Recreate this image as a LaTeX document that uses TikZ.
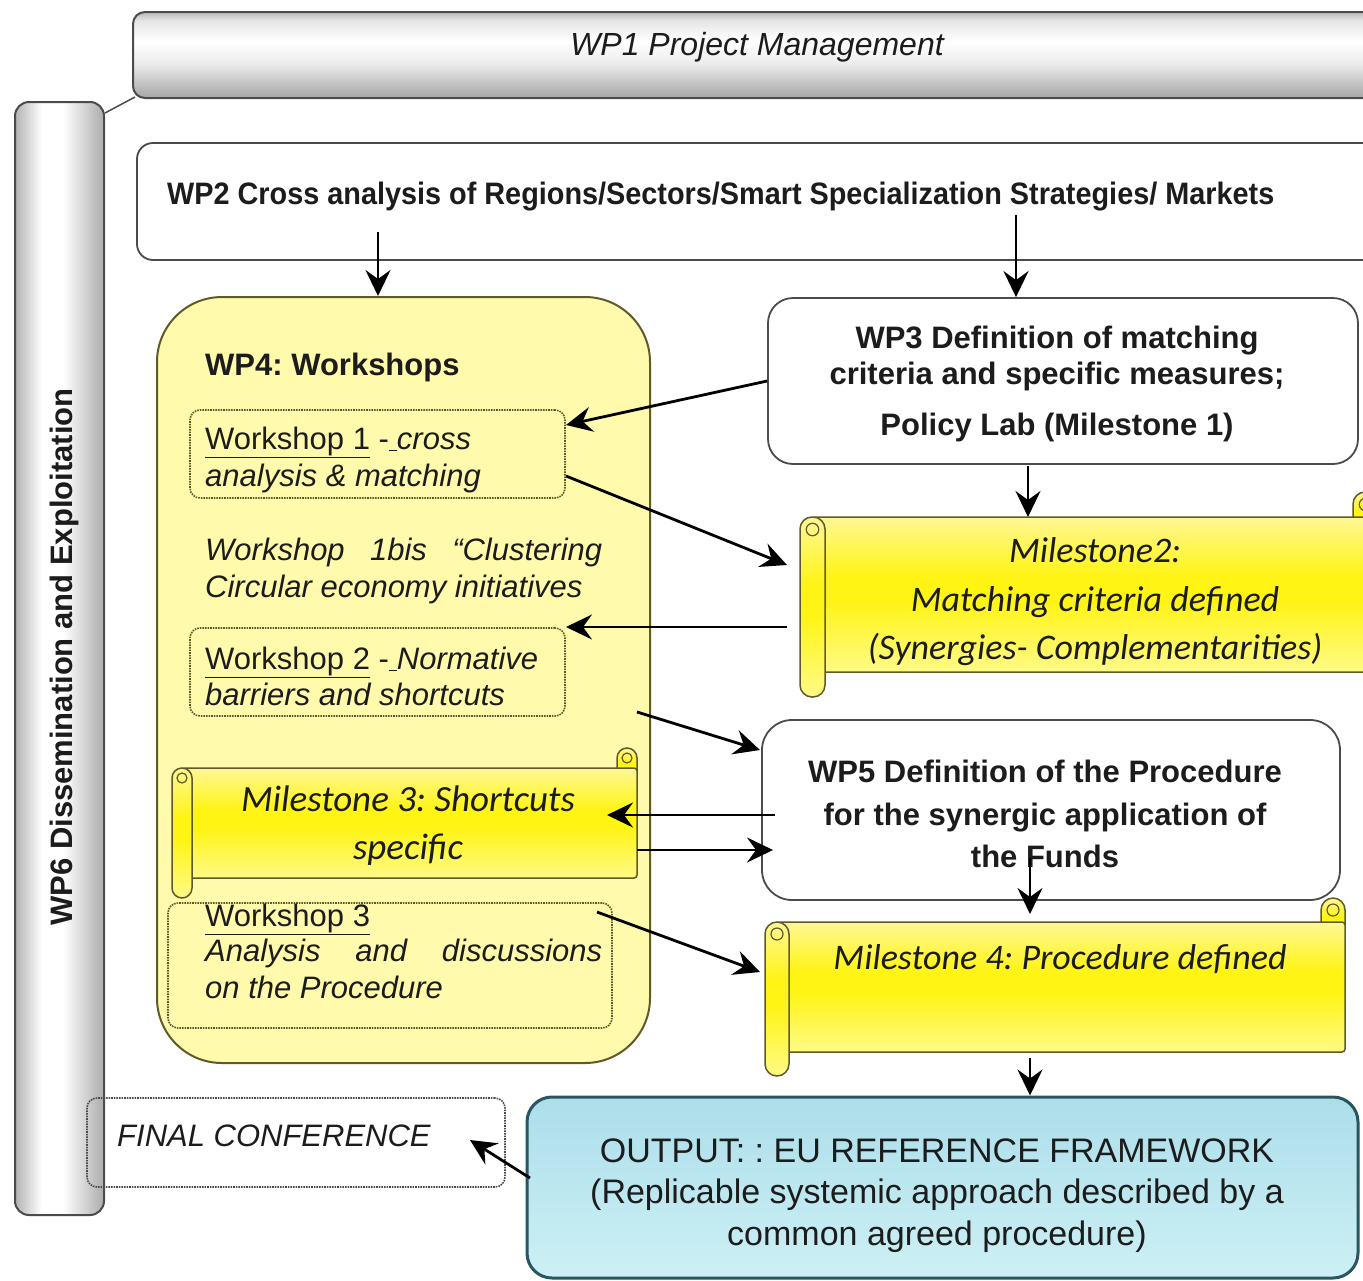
\documentclass[tikz,border=0pt]{standalone}
\usepackage{fontspec}
\setmainfont{Liberation Sans}
\newfontfamily\narrowfont[FakeStretch=0.93]{Liberation Sans}
\newfontfamily\calfont{Carlito}
\usetikzlibrary{arrows.meta,calc}
\newcommand\myfs[1]{\fontsize{#1}{#1}\selectfont}
\definecolor{txt}{RGB}{28,28,28}
\definecolor{wpfill}{RGB}{255,250,172}
\definecolor{wpline}{RGB}{95,90,40}
\definecolor{boxline}{RGB}{75,75,75}
\definecolor{outline}{RGB}{40,85,95}
\definecolor{ylo}{RGB}{255,250,135}
\definecolor{ymid}{RGB}{255,244,20}
\definecolor{yhi}{RGB}{255,247,150}
\definecolor{blo}{RGB}{205,240,245}
\definecolor{bhi}{RGB}{172,222,234}
\pgfdeclareverticalshading{grayv}{100bp}{color(0bp)=(gray!70); color(25bp)=(gray!70); color(45bp)=(gray!15); color(58bp)=(white); color(70bp)=(gray!20); color(75bp)=(gray!55); color(100bp)=(gray!55)}
\pgfdeclarehorizontalshading{grayh}{100bp}{color(0bp)=(gray!60); color(25bp)=(gray!60); color(40bp)=(white); color(52bp)=(white); color(75bp)=(gray!65); color(100bp)=(gray!65)}
\pgfdeclareverticalshading{yelv}{100bp}{color(0bp)=(ylo); color(25bp)=(ylo); color(48bp)=(ymid); color(56bp)=(ymid); color(75bp)=(yhi); color(100bp)=(yhi)}
\pgfdeclareverticalshading{bluev}{100bp}{color(0bp)=(blo); color(25bp)=(blo); color(75bp)=(bhi); color(100bp)=(bhi)}
% scroll: L T R B w radius
\newcommand\scrollshape[6]{%
  \path[shading=yelv, draw=wpline, line width=1.5pt, rounded corners=#6] ({#3-#5},{#2-#5}) rectangle (#3,{#2+#5});
  \draw[wpline, line width=1.2pt] ({#3-#5/2},{#2-#5/2}) circle[radius=#5/4*1pt];
  \path[shading=yelv, draw=wpline, line width=1.5pt, rounded corners=3pt] ({#1+#5/2},#2) rectangle (#3,#4);
  \path[shading=yelv, draw=wpline, line width=1.5pt, rounded corners=#6] (#1,#2) rectangle ({#1+#5},{#4+#5});
  \draw[wpline, line width=1.2pt] ({#1+#5/2},{#2+#5/2}) circle[radius=#5/4*1pt];
}
\begin{document}
\frenchspacing
\begin{tikzpicture}[x=1pt,y=-1pt,
  lbl/.style={anchor=base, inner sep=0pt, text=txt},
  lblw/.style={anchor=base west, inner sep=0pt, text=txt},
  arr/.style={draw=black, line width=2.8pt, -{Stealth[length=26pt,width=25pt,inset=9pt]}},
  dotbox/.style={draw=wpline, densely dotted, line width=1.6pt, rounded corners=10pt, inner sep=0pt},
  plainbox/.style={draw=boxline, line width=1.8pt, fill=white, inner sep=0pt},
  ghost/.style={inner sep=0pt, outer sep=0pt}]
\useasboundingbox (0,0) rectangle (1363,1280);
\fill[white] (0,0) rectangle (1363,1280);
\clip (0,0) rectangle (1363,1280);

% WP6 vertical bar
\node[draw=boxline, line width=2pt, shading=grayh, rounded corners=14pt, inner sep=0pt,
      minimum width=89pt, minimum height=1113pt] (wp6) at (59.5,658.5) {};
\node[rotate=90, inner sep=0pt, text=txt, font=\bfseries\myfs{31}] (wp6t) at (64,657) {WP6 Dissemination and Exploitation};

% WP1
\node[draw=boxline, line width=2pt, shading=grayv, rounded corners=12pt, inner sep=0pt,
      minimum width=1248pt, minimum height=86pt] (wp1) at (757,55) {};
\node[lbl, font=\itshape\myfs{32}] (wp1t) at (757,55) {WP1 Project Management};
\draw[boxline, line width=1.5pt] ($(wp6.north east)+(0,12)$) -- ($(wp1.south west)+(3,-2)$);

% WP2
\node[plainbox, rounded corners=16pt, minimum width=1253pt, minimum height=117pt] (wp2) at (763.5,201.5) {};
\node[lblw, font=\narrowfont\bfseries\myfs{31}] (wp2t) at (167,204) {WP2 Cross analysis of Regions/Sectors/Smart Specialization Strategies/ Markets};

% WP4
\node[draw=wpline, line width=2pt, fill=wpfill, rounded corners=65pt, inner sep=0pt,
      minimum width=493pt, minimum height=766pt] (wp4) at (403.5,680) {};
\node[lblw, font=\bfseries\myfs{31}] (wp4t) at (205,375) {WP4: Workshops};

% Workshop 1
\node[dotbox, minimum width=375pt, minimum height=88pt] (ws1) at (377.5,454) {};
\node[lblw, font=\myfs{31}] (ws1a) at (205,449) {\underline{Workshop 1} -\underline{\hspace{8pt}}\textit{cross}};
\node[lblw, font=\itshape\myfs{31}] (ws1b) at (205,486) {analysis \& matching};

% Workshop 1bis
\node[lblw, font=\itshape\myfs{31}] (ws1c) at (205,560) {\makebox[397pt][s]{Workshop 1bis “Clustering}};
\node[lblw, font=\itshape\myfs{31}] (ws1d) at (205,597) {Circular economy initiatives};

% Workshop 2
\node[dotbox, minimum width=375pt, minimum height=88pt] (ws2) at (377.5,672) {};
\node[lblw, font=\myfs{31}] (ws2a) at (205,669) {\underline{Workshop 2} -\underline{\hspace{8pt}}\textit{Normative}};
\node[lblw, font=\itshape\myfs{31}] (ws2b) at (205,705) {barriers and shortcuts};

% Milestone 3
\scrollshape{172}{768}{637}{878}{20}{10pt}
\node[ghost, minimum width=455pt, minimum height=110pt] (m3) at (409.5,823) {};
\node[lbl, font=\calfont\itshape\myfs{37}] (m3a) at (408,811) {Milestone 3: Shortcuts};
\node[lbl, font=\calfont\itshape\myfs{37}] (m3b) at (408,859) {specific};

% Workshop 3
\node[dotbox, minimum width=444pt, minimum height=125pt] (ws3) at (390,965.5) {};
\node[lblw, font=\myfs{31}] (ws3a) at (205,926) {\underline{Workshop 3}};
\node[lblw, font=\itshape\myfs{31}] (ws3b) at (205,961) {\makebox[397pt][s]{Analysis and discussions}};
\node[lblw, font=\itshape\myfs{31}] (ws3c) at (205,998) {on the Procedure};

% WP3
\node[plainbox, rounded corners=25pt, minimum width=590pt, minimum height=166pt] (wp3) at (1063,381) {};
\node[lbl, font=\bfseries\myfs{31}] (wp3a) at (1057,348) {WP3 Definition of matching};
\node[lbl, font=\bfseries\myfs{31}] (wp3b) at (1057,384) {criteria and specific measures;};
\node[lbl, font=\bfseries\myfs{31}] (wp3c) at (1057,435) {Policy Lab (Milestone 1)};

% Milestone 2
\scrollshape{800}{517}{1378}{672}{25}{12pt}
\node[ghost, minimum width=566pt, minimum height=155pt] (m2) at (1095,594.5) {};
\node[lbl, font=\calfont\itshape\myfs{36}] (m2a) at (1095,562) {Milestone2:};
\node[lbl, font=\calfont\itshape\myfs{36}] (m2b) at (1095,611) {Matching criteria defined};
\node[lbl, font=\calfont\itshape\myfs{36}] (m2c) at (1095,659) {(Synergies- Complementarities)};

% WP5
\node[plainbox, rounded corners=30pt, minimum width=578pt, minimum height=180pt] (wp5) at (1051,810) {};
\node[lbl, font=\bfseries\myfs{31}] (wp5a) at (1045,782) {WP5 Definition of the Procedure};
\node[lbl, font=\bfseries\myfs{31}] (wp5b) at (1045,825) {for the synergic application of};
\node[lbl, font=\bfseries\myfs{31}] (wp5c) at (1045,867) {the Funds};

% Milestone 4
\scrollshape{765}{922}{1345}{1052}{24}{12pt}
\node[ghost, minimum width=556pt, minimum height=130pt] (m4) at (1061,987) {};
\node[lbl, font=\calfont\itshape\myfs{36}] (m4a) at (1060,969) {Milestone 4: Procedure defined};

% Output
\node[draw=outline, line width=3pt, shading=bluev, rounded corners=25pt, inner sep=0pt,
      minimum width=831pt, minimum height=181pt] (out) at (942.5,1187.5) {};
\node[lbl, font=\myfs{34}] (outa) at (937,1162) {OUTPUT: : EU REFERENCE FRAMEWORK};
\node[lbl, font=\myfs{34}] (outb) at (937,1203) {(Replicable systemic approach described by a};
\node[lbl, font=\myfs{34}] (outc) at (937,1245) {common agreed procedure)};

% Final conference
\node[draw=boxline, densely dotted, line width=1.6pt, rounded corners=10pt, inner sep=0pt,
      minimum width=418pt, minimum height=89pt] (fc) at (296,1142.5) {};
\node[lblw, font=\itshape\myfs{31}] (fct) at (117,1146) {FINAL CONFERENCE};

% connector end points
\coordinate (p1) at (378,232);
\coordinate (p2) at (1016,215);
\coordinate (p3) at (566,425);
\coordinate (p4) at (1028,466);
\coordinate (p5s) at (566,476);
\coordinate (p5e) at (787,565);
\coordinate (p6s) at (787,627);
\coordinate (p6e) at (566,627);
\coordinate (p7s) at (637,712);
\coordinate (p7e) at (760,750);
\coordinate (p8s) at (775,815);
\coordinate (p8e) at (607,815);
\coordinate (p9s) at (637,850);
\coordinate (p9e) at (773,850);
\coordinate (p10) at (1030,858);
\coordinate (p10e) at (1030,914);
\coordinate (p11s) at (597,912);
\coordinate (p11e) at (760,972);
\coordinate (p12) at (1030,1058);
\coordinate (p13s) at (530,1178);
\coordinate (p13e) at (470,1140);

\draw[arr] (p1) -- (p1 |- wp4.north);
\draw[arr] (p2) -- (p2 |- wp3.north);
\draw[arr] (wp3.west) -- (p3);
\draw[arr] (p4) -- (p4 |- m2.north);
\draw[arr] (p5s) -- (p5e);
\draw[arr] (p6s) -- (p6e);
\draw[arr] (p7s) -- (p7e);
\draw[arr] (p8s) -- (p8e);
\draw[arr] (p9s) -- (p9e);
\draw[arr] (p10) -- (p10e);
\draw[arr] (p11s) -- (p11e);
\draw[arr] (p12) -- (p12 |- out.north);
\draw[arr] (p13s) -- (p13e);
\end{tikzpicture}
\end{document}
